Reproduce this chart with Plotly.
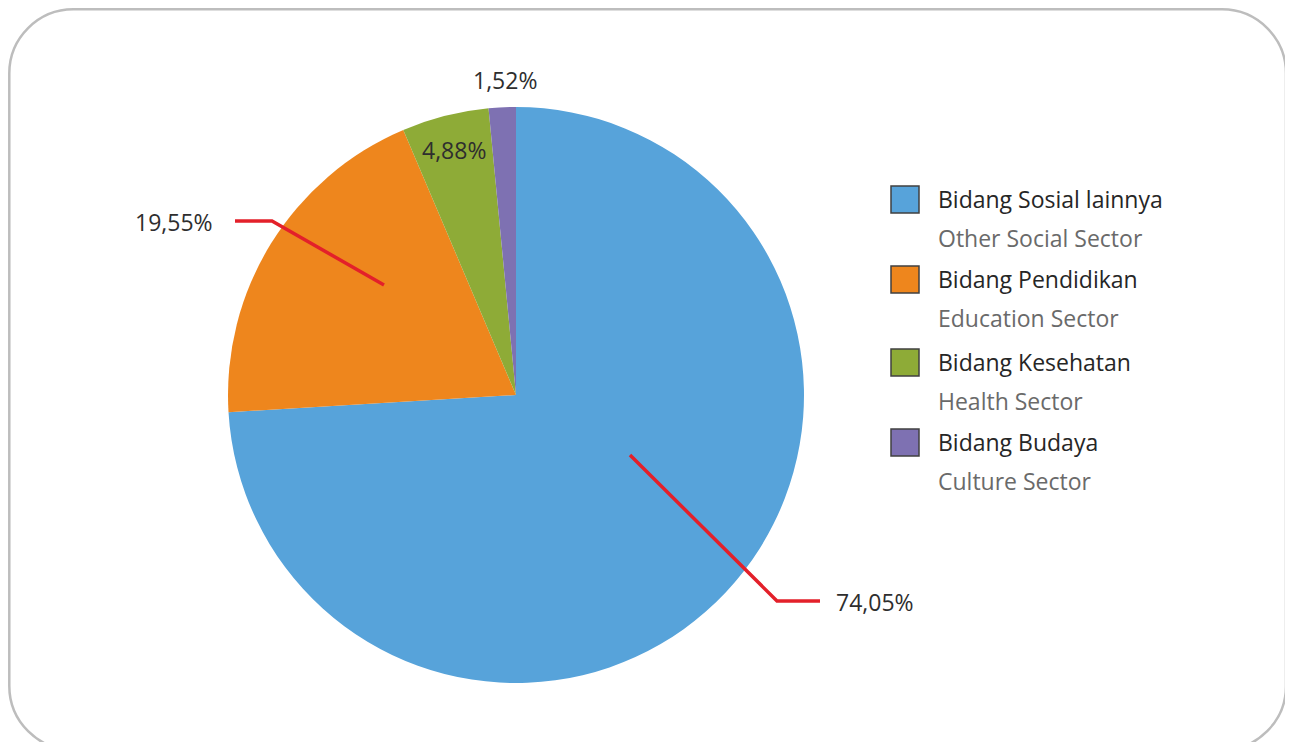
import plotly.graph_objects as go

# The page body adds an 8px margin; the figure is sized so it fits the window.
OFF = 8
W, H = 1293 - OFF, 742 - OFF

labels_id = ["Bidang Sosial lainnya", "Bidang Pendidikan", "Bidang Kesehatan", "Bidang Budaya"]
labels_en = ["Other Social Sector", "Education Sector", "Health Sector", "Culture Sector"]
values = [74.05, 19.55, 4.88, 1.52]
colors = ["#57A3DA", "#EE861D", "#8EAB37", "#7E71B2"]

FONT = "Open Sans"
DARK = "#2E2E2E"
GRAY = "#6A6A6A"
RED = "#E3202A"


def px(x):
    return (x - OFF) / W


def py(y):
    return 1 - (y - OFF) / H


def fmt(v):
    return f"{v:.2f}".replace(".", ",") + "%"


# pie geometry (screen pixels)
cx, cy, r = 516, 395, 288

fig = go.Figure(go.Pie(
    labels=labels_id,
    values=values,
    marker=dict(colors=colors, line=dict(width=0)),
    sort=False,
    direction="clockwise",
    rotation=0,
    textinfo="none",
    hoverinfo="label+percent",
    showlegend=False,
    domain=dict(x=[px(cx - r), px(cx + r)], y=[py(cy + r), py(cy - r)]),
))

shapes = []
annotations = []

# rounded frame
x0, y0, x1, y1, rr = 9.3, 9.3, 1286, 750, 64
k = 0.45
path_pts = (
    f"M {px(x0 + rr)},{py(y0)} L {px(x1 - rr)},{py(y0)} "
    f"C {px(x1 - rr * k)},{py(y0)} {px(x1)},{py(y0 + rr * k)} {px(x1)},{py(y0 + rr)} "
    f"L {px(x1)},{py(y1 - rr)} "
    f"C {px(x1)},{py(y1 - rr * k)} {px(x1 - rr * k)},{py(y1)} {px(x1 - rr)},{py(y1)} "
    f"L {px(x0 + rr)},{py(y1)} "
    f"C {px(x0 + rr * k)},{py(y1)} {px(x0)},{py(y1 - rr * k)} {px(x0)},{py(y1 - rr)} "
    f"L {px(x0)},{py(y0 + rr)} "
    f"C {px(x0)},{py(y0 + rr * k)} {px(x0 + rr * k)},{py(y0)} {px(x0 + rr)},{py(y0)} Z"
)
shapes.append(dict(type="path", xref="paper", yref="paper", path=path_pts,
                   line=dict(color="#BDBDBD", width=2.5), layer="below"))

# leader lines (screen pixels)
leaders = [
    [(630, 455), (777, 601), (820, 601)],
    [(384, 285), (272, 221), (235, 221)],
]
for pts in leaders:
    p = "M " + " L ".join(f"{px(a)},{py(b)}" for a, b in pts)
    shapes.append(dict(type="path", xref="paper", yref="paper", path=p,
                       line=dict(color=RED, width=3.5)))

# percentage labels
label_pos = [
    (834, 602, "left"),
    (215, 222, "right"),
    (454, 150, "center"),
    (505, 80, "center"),
]
for v, (lx, ly, al) in zip(values, label_pos):
    annotations.append(dict(
        x=px(lx), y=py(ly), xref="paper", yref="paper",
        text=fmt(v), showarrow=False,
        xanchor=al, yanchor="middle",
        font=dict(family=FONT, size=23, color=DARK),
    ))

# legend
leg_x = 891
sq = 28
leg_rows = [199, 279, 362, 442]
for name_id, name_en, col, ry in zip(labels_id, labels_en, colors, leg_rows):
    shapes.append(dict(type="rect", xref="paper", yref="paper",
                       x0=px(leg_x), x1=px(leg_x + sq),
                       y0=py(ry - 13), y1=py(ry + 14),
                       fillcolor=col, line=dict(color="#404040", width=1.5)))
    annotations.append(dict(
        x=px(936), y=py(ry), xref="paper", yref="paper",
        text=name_id, showarrow=False, xanchor="left", yanchor="middle",
        font=dict(family=FONT, size=23, color="#262626"),
    ))
    annotations.append(dict(
        x=px(936), y=py(ry + 39), xref="paper", yref="paper",
        text=name_en, showarrow=False, xanchor="left", yanchor="middle",
        font=dict(family=FONT, size=23, color=GRAY),
    ))

fig.update_layout(
    width=W, height=H,
    margin=dict(l=0, r=0, t=0, b=0),
    paper_bgcolor="white",
    plot_bgcolor="white",
    shapes=shapes,
    annotations=annotations,
    showlegend=False,
)

fig.write_html("out.html")
